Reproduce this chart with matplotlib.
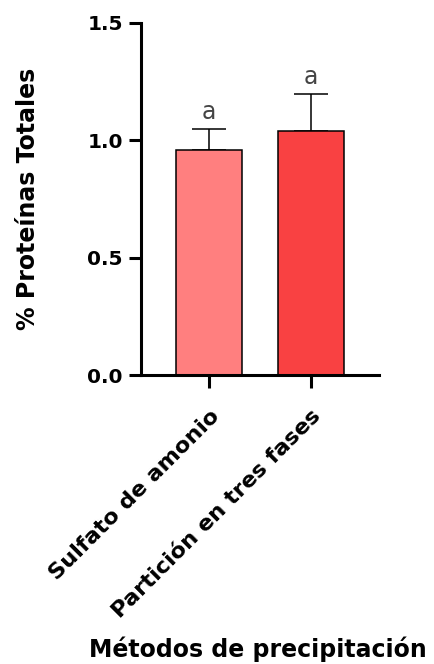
import matplotlib
matplotlib.use("Agg")
import matplotlib.pyplot as plt

# porcentaje de proteinas totales por metodo
metodos = ["Sulfato de amonio", "Partición en tres fases"]
medias = [0.957, 1.040]
desv = [0.091, 0.156]
letras = ["a", "a"]
colores = ["#FF7F7F", "#F94142"]

fig = plt.figure(figsize=(4.34, 6.64), dpi=100)
ax = fig.add_axes([0.325, 0.4352, 0.548, 0.5302])

x = list(range(len(metodos)))
ax.bar(x, medias, width=0.64, color=colores, edgecolor="black", linewidth=1.1, zorder=2)
ax.errorbar(x, medias, yerr=[[0] * len(desv), desv], fmt="none", ecolor="black",
            elinewidth=1.1, capsize=12, capthick=1.1, zorder=1)

for xi, m, s, l in zip(x, medias, desv, letras):
    ax.annotate(l, (xi, m + s), xytext=(0, 4), textcoords="offset points",
                ha="center", va="bottom", fontsize=17, color="#444444",
                family="Liberation Sans Narrow")

ax.set_xlim(-0.667, 1.667)
ax.set_ylim(0, 1.5)
ax.set_yticks([0, 0.5, 1.0, 1.5])
ax.set_yticklabels(["0.0", "0.5", "1.0", "1.5"], fontsize=14.5, fontweight="bold")
ax.set_xticks(x)
ax.set_xticklabels(metodos, rotation=45, ha="right", va="top", rotation_mode="anchor",
                   fontsize=16.2, fontweight="bold")

for side in ["top", "right"]:
    ax.spines[side].set_visible(False)
for side in ["left", "bottom"]:
    ax.spines[side].set_linewidth(2.2)
ax.tick_params(width=2.2, length=9)
ax.tick_params(axis="y", pad=4)
ax.tick_params(axis="x", pad=13)

ax.set_ylabel("% Proteínas Totales", fontsize=17, fontweight="bold", labelpad=34)
ax.set_xlabel("Métodos de precipitación", fontsize=17, fontweight="bold")
ax.xaxis.set_label_coords(0.49, -0.744)

fig.savefig("out.png", dpi=100)
